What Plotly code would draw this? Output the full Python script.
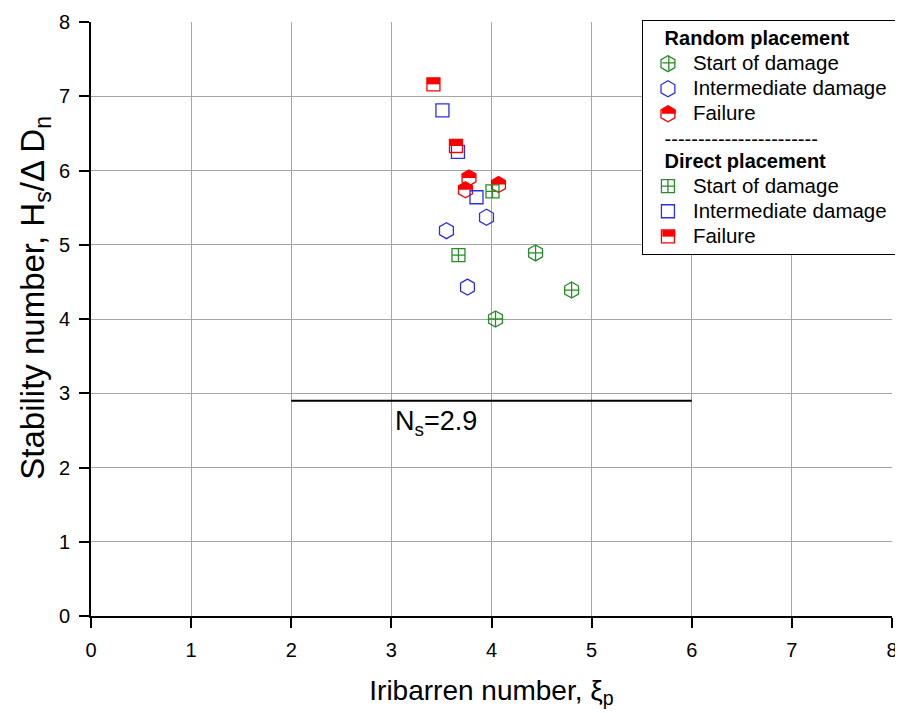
import plotly.graph_objects as go

# ---- data ----
rand_start_x = [4.44, 4.80, 4.04]
rand_start_y = [4.89, 4.39, 4.00]
rand_inter_x = [3.95, 3.55, 3.76]
rand_inter_y = [5.37, 5.19, 4.43]
rand_fail_x = [3.775, 3.74, 4.07]
rand_fail_y = [5.90, 5.74, 5.81]

dir_start_x = [4.01, 3.67]
dir_start_y = [5.72, 4.86]
dir_inter_x = [3.51, 3.665, 3.85]
dir_inter_y = [6.81, 6.25, 5.64]
dir_fail_x = [3.42, 3.645]
dir_fail_y = [7.16, 6.33]

ns_value = 2.9
ns_x_range = [2, 6]

x_ticks = [0, 1, 2, 3, 4, 5, 6, 7, 8]
y_ticks = [0, 1, 2, 3, 4, 5, 6, 7, 8]

GREEN = "rgb(40,140,40)"
BLUE = "rgb(45,45,230)"
RED = "rgb(250,0,0)"
FONT = "Liberation Sans, Arial, sans-serif"

HEX = 16
SQ = 13
LW = 1.3

# figure geometry (the page body adds an 8 px offset)
W, H = 903, 713
BODY = 8
ML, MR, MT, MB = 83, 16, 13, 105
PW, PH = W - ML - MR, H - MT - MB


def page_to_paper(px, py):
    fx, fy = px - BODY, py - BODY
    return (fx - ML) / PW, (H - MB - fy) / PH


fig = go.Figure()

g1 = "random"
g2 = "direct"
NB = "\u00a0\u00a0\u00a0"
g1_title = f"<span style='font-size:20px'>{NB}<b>Random placement</b></span>"
g2_title = (f"<span style='font-size:20px'>{NB}-----------------------</span><br>"
            f"<span style='font-size:20px'>{NB}<b>Direct placement</b></span>")


def nm(t):
    return f"<span style='font-size:20.5px'>{t}</span>"


fig.add_trace(go.Scatter(x=rand_start_x, y=rand_start_y, mode="markers", name=nm("Start of damage"),
                         legendgroup=g1, legendgrouptitle=dict(text=g1_title),
                         marker=dict(symbol="hexagon-open", size=HEX, color=GREEN, line=dict(width=LW))))
fig.add_trace(go.Scatter(x=rand_start_x, y=rand_start_y, mode="markers", showlegend=False,
                         legendgroup=g1, hoverinfo="skip",
                         marker=dict(symbol="cross-thin-open", size=11, color=GREEN, line=dict(width=LW))))
fig.add_trace(go.Scatter(x=rand_inter_x, y=rand_inter_y, mode="markers",
                         name=nm("Intermediate damage\u00a0"), legendgroup=g1,
                         marker=dict(symbol="hexagon-open", size=HEX, color=BLUE, line=dict(width=LW))))
fig.add_trace(go.Scatter(x=rand_fail_x, y=rand_fail_y, mode="markers", name=nm("Failure"),
                         legendgroup=g1,
                         marker=dict(symbol="hexagon-open", size=HEX, color=RED, line=dict(width=LW))))

fig.add_trace(go.Scatter(x=dir_start_x, y=dir_start_y, mode="markers", name=nm("Start of damage"),
                         legendgroup=g2, legendgrouptitle=dict(text=g2_title),
                         marker=dict(symbol="square-cross-open", size=SQ, color=GREEN, line=dict(width=LW))))
fig.add_trace(go.Scatter(x=dir_inter_x, y=dir_inter_y, mode="markers",
                         name=nm("Intermediate damage\u00a0"), legendgroup=g2,
                         marker=dict(symbol="square-open", size=SQ, color=BLUE, line=dict(width=LW))))
fig.add_trace(go.Scatter(x=dir_fail_x, y=dir_fail_y, mode="markers", name=nm("Failure"),
                         legendgroup=g2,
                         marker=dict(symbol="square-open", size=SQ, color=RED, line=dict(width=LW))))

# half-filled markers (top half), anchored at the data values, sized in pixels
r = HEX / 2
rt = r * 3 ** 0.5 / 2
rh = r / 2
hex_top = f"M{-rt:.2f},0 L{-rt:.2f},{rh:.2f} L0,{r:.2f} L{rt:.2f},{rh:.2f} L{rt:.2f},0 Z"
s = SQ / 2
sq_top = f"M{-s:.2f},0 L{-s:.2f},{s:.2f} L{s:.2f},{s:.2f} L{s:.2f},0 Z"
hex_cross = f"M0,{-r + 0.6:.2f} L0,{r - 0.6:.2f} M{-rt + 0.5:.2f},0 L{rt - 0.5:.2f},0"

for xv, yv in zip(rand_fail_x, rand_fail_y):
    fig.add_shape(type="path", xref="x", yref="y", xsizemode="pixel", ysizemode="pixel",
                  xanchor=xv, yanchor=yv, path=hex_top, fillcolor=RED, line=dict(width=0))
for xv, yv in zip(dir_fail_x, dir_fail_y):
    fig.add_shape(type="path", xref="x", yref="y", xsizemode="pixel", ysizemode="pixel",
                  xanchor=xv, yanchor=yv, path=sq_top, fillcolor=RED, line=dict(width=0))

# legend: white panel behind a transparent legend so the icon decorations can show
LEG_L, LEG_R, LEG_T, LEG_B = 644, 898, 19, 254
ITEMW = 40
lx0, ly0 = page_to_paper(LEG_L, LEG_B)
lx1, ly1 = page_to_paper(LEG_R, LEG_T)
fig.add_shape(type="rect", xref="paper", yref="paper", x0=lx0, x1=lx1, y0=ly0, y1=ly1,
              fillcolor="white", line=dict(width=0), layer="above")

ICON_X = LEG_L + 2 + (ITEMW + 10) / 2
ROW_Y = {"rand_start": 62, "rand_fail": 113, "dir_fail": 236}
for key, path, style in [("rand_fail", hex_top, dict(fillcolor=RED, line=dict(width=0))),
                         ("dir_fail", sq_top, dict(fillcolor=RED, line=dict(width=0))),
                         ("rand_start", hex_cross, dict(line=dict(width=LW, color=GREEN)))]:
    ax_, ay_ = page_to_paper(ICON_X, ROW_Y[key])
    fig.add_shape(type="path", xref="paper", yref="paper", xsizemode="pixel", ysizemode="pixel",
                  xanchor=ax_, yanchor=ay_, path=path, **style)

# Ns line
fig.add_shape(type="line", xref="x", yref="y", x0=ns_x_range[0], x1=ns_x_range[1],
              y0=ns_value, y1=ns_value, line=dict(color="black", width=2))
fig.add_annotation(x=3.02, y=ns_value - 0.05, xref="x", yref="y", xanchor="left", yanchor="top",
                   text=f"N<sub>s</sub>={ns_value}", showarrow=False,
                   font=dict(size=27, color="black", family=FONT))

# y-axis title (placed as rotated text, slightly above the axis centre like the reference)
ytx, yty = page_to_paper(34, 297)
fig.add_annotation(x=ytx, y=yty, xref="paper", yref="paper", xanchor="center", yanchor="middle",
                   text="Stability number, H<sub>s</sub>/Δ D<sub>n</sub>", textangle=-90,
                   showarrow=False, font=dict(size=33, color="black", family=FONT))

axis_common = dict(range=[0, 8], tickvals=x_ticks, showgrid=True, gridcolor="rgb(165,165,165)",
                   gridwidth=1, zeroline=False, showline=True, linecolor="black", linewidth=2,
                   ticks="outside", ticklen=10, tickwidth=1.5, tickcolor="black",
                   automargin=False, ticklabelstandoff=5,
                   tickfont=dict(size=20, color="black", family=FONT))

fig.update_xaxes(**axis_common,
                 title=dict(text="Iribarren number, ξ<sub>p</sub>",
                            font=dict(size=28, color="black", family=FONT), standoff=20))
fig.update_yaxes(**{**axis_common, "tickvals": y_ticks})

lgx, lgy = page_to_paper(LEG_L, LEG_T)
fig.update_layout(
    width=W, height=H,
    margin=dict(l=ML, r=MR, t=MT, b=MB),
    paper_bgcolor="white", plot_bgcolor="white",
    font=dict(family=FONT, color="black"),
    showlegend=True,
    legend=dict(x=lgx, y=lgy, xanchor="left", yanchor="top", bgcolor="rgba(0,0,0,0)",
                bordercolor="black", borderwidth=1, traceorder="grouped", tracegroupgap=0,
                itemwidth=ITEMW,
                font=dict(size=17, family=FONT, color="black"),
                grouptitlefont=dict(size=17, family=FONT, color="black"),
                itemsizing="trace"),
)

fig.write_html("out.html")
